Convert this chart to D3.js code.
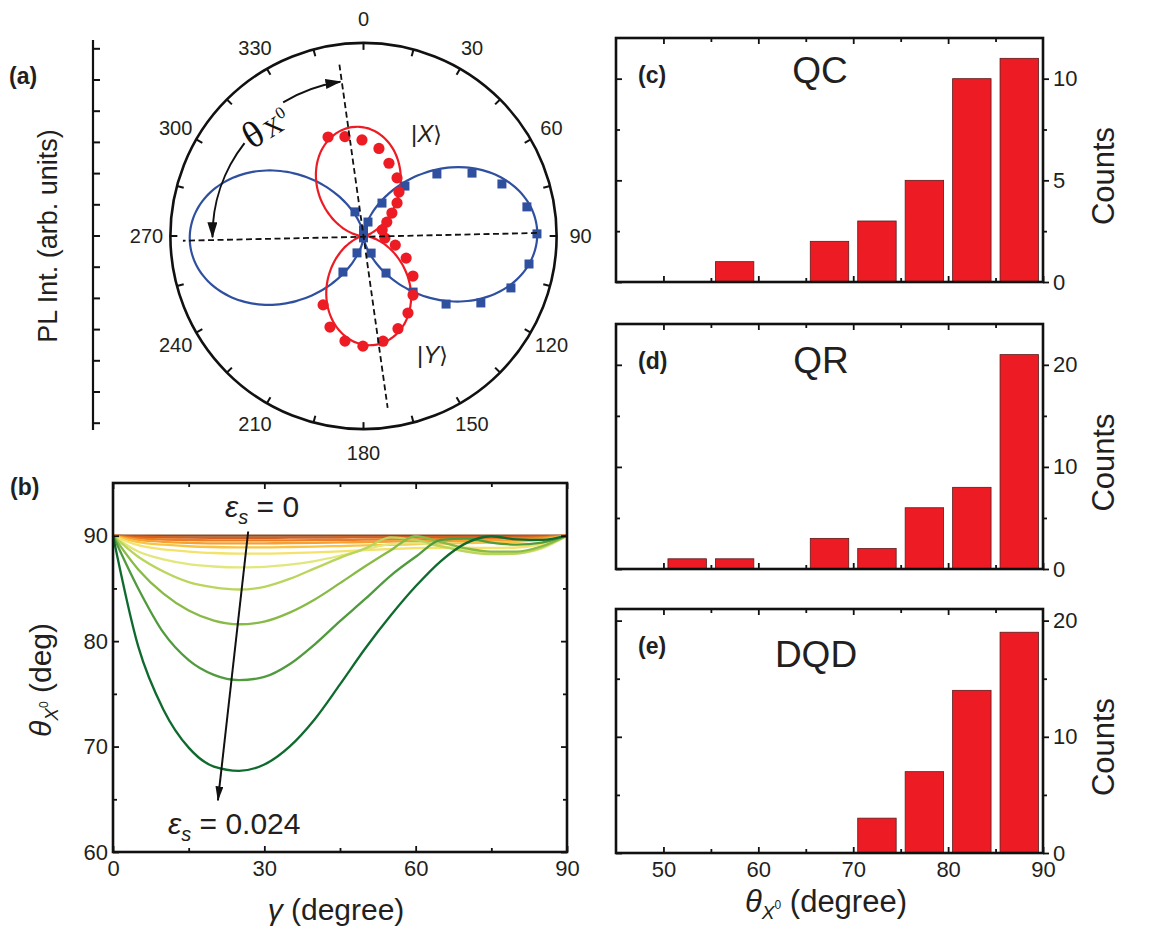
<!DOCTYPE html>
<html>
<head>
<meta charset="utf-8">
<script src="https://cdn.jsdelivr.net/npm/d3@7"></script>
<style>
body { margin: 0; background: #fff; }
</style>
</head>
<body>
<svg id="fig" width="1156" height="935"></svg>
<script>
var FONT = "'Liberation Sans', Arial, Helvetica, sans-serif";
var SERIF = "'Liberation Serif', 'Times New Roman', serif";
var INK = "#231f20";

// ---- (a) polar data: angle (deg, clockwise from top) and PL intensity (arb. units)
var blueAngle = [340.5, 0, 17.8, 29.3, 39.7, 49.8, 59.9, 69.4, 79.9, 89.3, 99.6, 109.4, 119.7, 129.5, 138.5, 148.7, 156, 180, 201, 209.7];
var blueInt   = [0.82, 0.19, 0.47, 1.21, 2.08, 3.08, 4.02, 4.74, 5.32, 5.56, 5.38, 5.01, 4.33, 3.43, 2.40, 1.39, 0.60, 0.06, 0.58, 1.33];
var redAngle  = [340.3, 349.4, 359.1, 10, 19.3, 30, 38.9, 45.4, 51.1, 59.2, 72, 95.3, 106, 117.4, 129, 140, 150, 159.6, 169.5, 180.3, 190, 200.2, 210.4];
var redInt    = [3.37, 3.24, 3.08, 2.85, 2.47, 2.15, 1.81, 1.51, 1.17, 0.87, 0.63, 0.69, 1.06, 1.54, 2.04, 2.47, 2.85, 3.17, 3.43, 3.53, 3.42, 3.11, 2.56];
// cos^2 fits: I = a + b cos^2(theta - phase)
var blueFit = { a: 0.05, b: 5.52, phase: 89 };
var redFit  = { a: 0.03, b: 3.48, phase: 355 };
var polarLabels = [0, 30, 60, 90, 120, 150, 180, 210, 240, 270, 300, 330];

// ---- (b) theta_X0 vs gamma for increasing strain
var gammaDeg = [0, 5, 10, 15, 20, 25, 30, 35, 40, 45, 50, 55, 60, 65, 70, 75, 80, 85, 90];
var thetaCurves = [
  [90, 90, 90, 90, 90, 90, 90, 90, 90, 90, 90, 90, 90, 90, 90, 90, 90, 90, 90],
  [90, 89.9, 89.85, 89.82, 89.8, 89.8, 89.8, 89.81, 89.82, 89.83, 89.84, 89.85, 89.86, 89.87, 89.88, 89.89, 89.9, 89.93, 90],
  [90, 89.75, 89.64, 89.58, 89.56, 89.55, 89.55, 89.56, 89.58, 89.6, 89.62, 89.64, 89.66, 89.68, 89.7, 89.72, 89.75, 89.83, 90],
  [90, 89.6, 89.42, 89.33, 89.28, 89.27, 89.28, 89.3, 89.33, 89.36, 89.4, 89.44, 89.47, 89.5, 89.52, 89.55, 89.6, 89.72, 90],
  [90, 89.4, 89.15, 89.0, 88.93, 88.9, 88.9, 88.93, 88.97, 89.02, 89.08, 89.14, 89.2, 89.25, 89.3, 89.35, 89.42, 89.6, 90],
  [90, 89.1, 88.7, 88.5, 88.36, 88.3, 88.3, 88.34, 88.42, 88.52, 88.63, 88.74, 88.82, 88.86, 88.86, 88.84, 88.88, 89.2, 90],
  [90, 88.5, 87.75, 87.3, 87.08, 87.0, 87.05, 87.25, 87.6, 88.1, 88.7, 89.2, 89.3, 89.0, 88.6, 88.35, 88.35, 88.8, 90],
  [90, 88.0, 86.6, 85.6, 85.1, 84.9, 85.15, 85.9, 86.9, 87.9, 88.8, 89.85, 89.6, 89.0, 88.5, 88.25, 88.3, 88.9, 90],
  [90, 86.8, 84.5, 82.9, 81.95, 81.6, 81.85, 82.7, 83.95, 85.5, 87.1, 88.6, 89.95, 89.4, 88.8, 88.5, 88.5, 89.0, 90],
  [90, 85.0, 80.8, 78.2, 76.8, 76.3, 76.6, 77.8, 79.7, 81.9, 84.0, 86.2, 88.0, 89.6, 89.75, 89.35, 89.15, 89.35, 90],
  [90, 79.5, 73.5, 69.9, 68.1, 67.7, 68.3, 70.0, 72.6, 75.9, 79.3, 82.4, 85.2, 87.6, 89.3, 89.95, 89.65, 89.6, 90]
];
var curveColors = ["#8c4a22", "#d45f1e", "#ec7c22", "#f5a030", "#f8c443", "#f4e26c", "#e2e77c", "#b9d55c", "#88ba46", "#4f9b3e", "#0f6a2e"];

// ---- (c)-(e) histograms of theta_X0, 5 degree bins
var binStart  = [45, 50, 55, 60, 65, 70, 75, 80, 85];
var qcCounts  = [0, 0, 1, 0, 2, 3, 5, 10, 11];
var qrCounts  = [0, 1, 1, 0, 3, 2, 6, 8, 21];
var dqdCounts = [0, 0, 0, 0, 0, 3, 7, 14, 19];

var svg = d3.select("#fig");
svg.append("rect").attr("width", 1156).attr("height", 935).attr("fill", "#fff");

var defs = svg.append("defs");
defs.append("marker").attr("id", "headA")
    .attr("viewBox", "0 0 16 10").attr("refX", 15).attr("refY", 5)
    .attr("markerWidth", 16).attr("markerHeight", 10)
    .attr("markerUnits", "userSpaceOnUse").attr("orient", "auto")
  .append("path").attr("d", "M0,0L16,5L0,10Z").attr("fill", "#111");
defs.append("marker").attr("id", "headB")
    .attr("viewBox", "0 0 15 8").attr("refX", 14).attr("refY", 4)
    .attr("markerWidth", 15).attr("markerHeight", 8)
    .attr("markerUnits", "userSpaceOnUse").attr("orient", "auto")
  .append("path").attr("d", "M0,0L15,4L0,8Z").attr("fill", "#111");

function rad(deg) { return deg * Math.PI / 180; }

function styleAxis(g, fs) {
  g.select(".domain").remove();
  g.attr("font-family", FONT).attr("font-size", fs);
  g.selectAll(".tick line").attr("stroke", "#111").attr("stroke-width", 1.8);
  g.selectAll(".tick text").attr("fill", INK);
}

function panelTag(x, y, s) {
  svg.append("text").attr("x", x).attr("y", y).attr("font-family", FONT)
      .attr("font-size", 23).attr("font-weight", "bold").attr("fill", INK).text(s);
}

// ================= (a) polar plot =================
var cx = 363.5, cy = 236;
var rA = d3.scaleLinear().domain([0, 1]).range([0, 31.2]);
var outerR = 6.19;
var gA = svg.append("g").attr("transform", "translate(" + cx + "," + cy + ")");

// left intensity axis
var yPL = d3.scaleLinear().domain([-6, 6]).range([cy + rA(6), cy - rA(6)]);
svg.append("line").attr("x1", 93).attr("x2", 93).attr("y1", 40).attr("y2", 430)
    .attr("stroke", "#111").attr("stroke-width", 2.2);
svg.append("g").selectAll("line").data(d3.range(-6, 7))
  .enter().append("line")
    .attr("x1", 93).attr("x2", 100)
    .attr("y1", function (d) { return yPL(d); })
    .attr("y2", function (d) { return yPL(d); })
    .attr("stroke", "#111").attr("stroke-width", 2);
svg.append("text")
    .attr("transform", "translate(57," + cy + ") rotate(-90)")
    .attr("text-anchor", "middle").attr("font-family", FONT).attr("font-size", 27).attr("fill", INK)
    .text("PL Int. (arb. units)");

gA.append("circle").attr("r", rA(outerR)).attr("fill", "none")
    .attr("stroke", "#111").attr("stroke-width", 2.6);
gA.selectAll(".ptick").data(d3.range(0, 360, 15))
  .enter().append("line")
    .attr("x1", function (d) { return Math.sin(rad(d)) * rA(outerR); })
    .attr("y1", function (d) { return -Math.cos(rad(d)) * rA(outerR); })
    .attr("x2", function (d) { return Math.sin(rad(d)) * (rA(outerR) - 7); })
    .attr("y2", function (d) { return -Math.cos(rad(d)) * (rA(outerR) - 7); })
    .attr("stroke", "#111").attr("stroke-width", 2);
gA.selectAll(".plab").data(polarLabels)
  .enter().append("text")
    .attr("x", function (d) { return Math.sin(rad(d)) * 217; })
    .attr("y", function (d) { return -Math.cos(rad(d)) * 217; })
    .attr("text-anchor", "middle").attr("dominant-baseline", "central")
    .attr("font-family", FONT).attr("font-size", 20).attr("fill", INK)
    .text(function (d) { return d; });

var fitAngles = d3.range(0, 360, 2);
function fitLine(fit) {
  return d3.lineRadial()
    .angle(function (a) { return rad(a); })
    .radius(function (a) { var c = Math.cos(rad(a - fit.phase)); return rA(fit.a + fit.b * c * c); })
    .curve(d3.curveCardinalClosed)(fitAngles);
}
gA.append("path").attr("d", fitLine(blueFit)).attr("fill", "none")
    .attr("stroke", "#2f4f9f").attr("stroke-width", 2.2);
gA.append("path").attr("d", fitLine(redFit)).attr("fill", "none")
    .attr("stroke", "#ed1c24").attr("stroke-width", 2.2);

gA.selectAll(".bsq").data(blueAngle)
  .enter().append("rect")
    .attr("width", 9).attr("height", 9)
    .attr("x", function (d, i) { return Math.sin(rad(d)) * rA(blueInt[i]) - 4.5; })
    .attr("y", function (d, i) { return -Math.cos(rad(d)) * rA(blueInt[i]) - 4.5; })
    .attr("fill", "#2f4f9f");
gA.selectAll(".rdot").data(redAngle)
  .enter().append("circle")
    .attr("r", 5.6)
    .attr("cx", function (d, i) { return Math.sin(rad(d)) * rA(redInt[i]); })
    .attr("cy", function (d, i) { return -Math.cos(rad(d)) * rA(redInt[i]); })
    .attr("fill", "#ed1c24");

// dashed polarisation axes
function polarXY(a, v) { return [Math.sin(rad(a)) * rA(v), -Math.cos(rad(a)) * rA(v)]; }
[[89, 5.56, 268.5, 5.79], [352, 5.55, 172, 5.56]].forEach(function (s) {
  var p0 = polarXY(s[0], s[1]), p1 = polarXY(s[2], s[3]);
  gA.append("line").attr("x1", p0[0]).attr("y1", p0[1]).attr("x2", p1[0]).attr("y2", p1[1])
      .attr("stroke", "#111").attr("stroke-width", 1.8).attr("stroke-dasharray", "6,3.5");
});

// theta_X0 arrows
function arcPath(v, a0, a1) {
  var p = d3.path();
  p.arc(0, 0, rA(v), rad(a0 - 90), rad(a1 - 90), a1 < a0);
  return p.toString();
}
gA.append("path").attr("d", arcPath(5.0, 329, 351.5)).attr("fill", "none")
    .attr("stroke", "#111").attr("stroke-width", 2).attr("marker-end", "url(#headA)");
gA.append("path").attr("d", arcPath(4.84, 308, 269.5)).attr("fill", "none")
    .attr("stroke", "#111").attr("stroke-width", 2).attr("marker-end", "url(#headA)");

var thLab = svg.append("text").attr("transform", "translate(252,150) rotate(-32)")
    .attr("font-family", SERIF).attr("fill", "#111");
thLab.append("tspan").attr("font-size", 38).text("θ");
thLab.append("tspan").attr("font-size", 25).attr("dx", 3).text("X");
thLab.append("tspan").attr("font-size", 17).attr("dy", -11).text("0");

function ketLabel(x, y, s) {
  var t = svg.append("text").attr("x", x).attr("y", y)
      .attr("font-family", FONT).attr("font-size", 24).attr("fill", INK);
  t.append("tspan").text("|");
  t.append("tspan").attr("font-style", "italic").text(s);
  t.append("tspan").attr("font-family", "'DejaVu Sans', sans-serif").attr("font-size", 22).text("⟩");
}
ketLabel(411, 142, "X");
ketLabel(417, 363, "Y");

panelTag(9, 84, "(a)");

// ================= (b) theta vs gamma =================
var xB = d3.scaleLinear().domain([0, 90]).range([113, 567]);
var yB = d3.scaleLinear().domain([60, 95]).range([852, 483]);
var gB = svg.append("g");

var lineB = d3.line()
    .x(function (d, i) { return xB(gammaDeg[i]); })
    .y(function (d) { return yB(d); })
    .curve(d3.curveMonotoneX);
thetaCurves.forEach(function (c, i) {
  gB.append("path").attr("d", lineB(c)).attr("fill", "none")
      .attr("stroke", curveColors[i]).attr("stroke-width", 2.3);
});

styleAxis(gB.append("g").attr("transform", "translate(0,852)")
    .call(d3.axisBottom(xB).tickValues([0, 30, 60, 90]).tickSize(-6).tickPadding(8)), 22);
styleAxis(gB.append("g").attr("transform", "translate(0,852)")
    .call(d3.axisBottom(xB).tickValues([15, 45, 75]).tickSize(-4).tickFormat("")), 22);
styleAxis(gB.append("g").attr("transform", "translate(0,483)")
    .call(d3.axisTop(xB).tickValues([0, 30, 60, 90]).tickSize(-6).tickFormat("")), 22);
styleAxis(gB.append("g").attr("transform", "translate(0,483)")
    .call(d3.axisTop(xB).tickValues([15, 45, 75]).tickSize(-4).tickFormat("")), 22);
styleAxis(gB.append("g").attr("transform", "translate(113,0)")
    .call(d3.axisLeft(yB).tickValues([60, 70, 80, 90]).tickSize(-6).tickPadding(5)), 22);
styleAxis(gB.append("g").attr("transform", "translate(113,0)")
    .call(d3.axisLeft(yB).tickValues([65, 75, 85]).tickSize(-4).tickFormat("")), 22);
styleAxis(gB.append("g").attr("transform", "translate(567,0)")
    .call(d3.axisRight(yB).tickValues([60, 70, 80, 90]).tickSize(-6).tickFormat("")), 22);
styleAxis(gB.append("g").attr("transform", "translate(567,0)")
    .call(d3.axisRight(yB).tickValues([65, 75, 85]).tickSize(-4).tickFormat("")), 22);
gB.append("rect").attr("x", 113).attr("y", 483).attr("width", 454).attr("height", 369)
    .attr("fill", "none").attr("stroke", "#111").attr("stroke-width", 2.6);

// strain arrow
gB.append("line")
    .attr("x1", xB(26.8)).attr("y1", yB(90.4))
    .attr("x2", xB(20.8)).attr("y2", yB(64.9))
    .attr("stroke", "#111").attr("stroke-width", 2).attr("marker-end", "url(#headB)");

function epsLabel(x, y, val) {
  var t = gB.append("text").attr("x", x).attr("y", y)
      .attr("font-family", FONT).attr("font-size", 30).attr("fill", INK);
  t.append("tspan").attr("font-style", "italic").text("ε");
  t.append("tspan").attr("font-style", "italic").attr("font-size", 20).attr("dy", 7).text("s");
  t.append("tspan").attr("dy", -7).text(" = " + val);
}
epsLabel(225, 517, "0");
epsLabel(168, 834, "0.024");

var yT = gB.append("text").attr("transform", "translate(51,680) rotate(-90)")
    .attr("text-anchor", "middle").attr("font-family", FONT).attr("font-size", 30).attr("fill", INK);
yT.append("tspan").attr("font-style", "italic").text("θ");
yT.append("tspan").attr("font-style", "italic").attr("font-size", 19).attr("dy", 7).text("X");
yT.append("tspan").attr("font-size", 12).attr("dy", -10).text("0");
yT.append("tspan").attr("dy", 3).text(" (deg)");

var xT = gB.append("text").attr("x", 336).attr("y", 920)
    .attr("text-anchor", "middle").attr("font-family", FONT).attr("font-size", 30).attr("fill", INK);
xT.append("tspan").attr("font-style", "italic").text("γ");
xT.append("tspan").text(" (degree)");

panelTag(10, 495, "(b)");

// ================= (c)-(e) histograms =================
var hx = d3.scaleLinear().domain([45, 90]).range([616, 1043]);
var histPanels = [
  { counts: qcCounts,  tag: "(c)", name: "QC",  top: 38,  bottom: 282, yMax: 12, major: [0, 5, 10],  minor: [2.5, 7.5], nameX: 820, nameY: 83 },
  { counts: qrCounts,  tag: "(d)", name: "QR",  top: 324, bottom: 569, yMax: 24, major: [0, 10, 20], minor: [5, 15],   nameX: 821, nameY: 373 },
  { counts: dqdCounts, tag: "(e)", name: "DQD", top: 609, bottom: 853, yMax: 21, major: [0, 10, 20], minor: [5, 15],   nameX: 816, nameY: 667 }
];

histPanels.forEach(function (p, k) {
  var hy = d3.scaleLinear().domain([0, p.yMax]).range([p.bottom, p.top]);
  var g = svg.append("g");

  g.selectAll("rect.bar").data(binStart)
    .enter().filter(function (b, i) { return p.counts[i] > 0; })
    .append("rect").attr("class", "bar")
      .attr("x", function (b) { return hx(b) + 4.5; })
      .attr("width", function (b) { return hx(b + 5) - hx(b) - 9; })
      .attr("y", function (b) { return hy(p.counts[binStart.indexOf(b)]); })
      .attr("height", function (b) { return hy(0) - hy(p.counts[binStart.indexOf(b)]); })
      .attr("fill", "#ed1c24").attr("stroke", "#5b1b1b").attr("stroke-width", 0.8);

  var last = k === histPanels.length - 1;
  styleAxis(g.append("g").attr("transform", "translate(0," + p.bottom + ")")
      .call(d3.axisBottom(hx).tickValues([50, 60, 70, 80, 90]).tickSize(-6).tickPadding(8)
        .tickFormat(last ? d3.format("d") : "")), 22);
  styleAxis(g.append("g").attr("transform", "translate(0," + p.bottom + ")")
      .call(d3.axisBottom(hx).tickValues([55, 65, 75, 85]).tickSize(-4).tickFormat("")), 22);
  styleAxis(g.append("g").attr("transform", "translate(0," + p.top + ")")
      .call(d3.axisTop(hx).tickValues([50, 60, 70, 80]).tickSize(-6).tickFormat("")), 22);
  styleAxis(g.append("g").attr("transform", "translate(0," + p.top + ")")
      .call(d3.axisTop(hx).tickValues([55, 65, 75, 85]).tickSize(-4).tickFormat("")), 22);
  styleAxis(g.append("g").attr("transform", "translate(616,0)")
      .call(d3.axisLeft(hy).tickValues(p.major).tickSize(-6).tickFormat("")), 22);
  styleAxis(g.append("g").attr("transform", "translate(616,0)")
      .call(d3.axisLeft(hy).tickValues(p.minor).tickSize(-4).tickFormat("")), 22);
  styleAxis(g.append("g").attr("transform", "translate(1043,0)")
      .call(d3.axisRight(hy).tickValues(p.major).tickSize(6).tickPadding(4)), 22);
  styleAxis(g.append("g").attr("transform", "translate(1043,0)")
      .call(d3.axisRight(hy).tickValues(p.minor).tickSize(4).tickFormat("")), 22);

  g.append("rect").attr("x", 616).attr("y", p.top).attr("width", 427).attr("height", p.bottom - p.top)
      .attr("fill", "none").attr("stroke", "#111").attr("stroke-width", 2.6);

  panelTag(638, p.top + 45, p.tag);
  g.append("text").attr("x", p.nameX).attr("y", p.nameY).attr("text-anchor", "middle")
      .attr("font-family", FONT).attr("font-size", 37).attr("fill", INK).text(p.name);
  g.append("text")
      .attr("transform", "translate(1114," + ((p.top + p.bottom) / 2 + 16) + ") rotate(-90)")
      .attr("text-anchor", "middle").attr("font-family", FONT).attr("font-size", 31).attr("fill", INK)
      .text("Counts");
});

var hT = svg.append("text").attr("x", 745).attr("y", 912)
    .attr("font-family", FONT).attr("font-size", 31).attr("fill", INK);
hT.append("tspan").attr("font-style", "italic").text("θ");
hT.append("tspan").attr("font-style", "italic").attr("font-size", 19).attr("dy", 7).text("X");
hT.append("tspan").attr("font-size", 12).attr("dy", -10).text("0");
hT.append("tspan").attr("dy", 3).text(" (degree)");
</script>
</body>
</html>
